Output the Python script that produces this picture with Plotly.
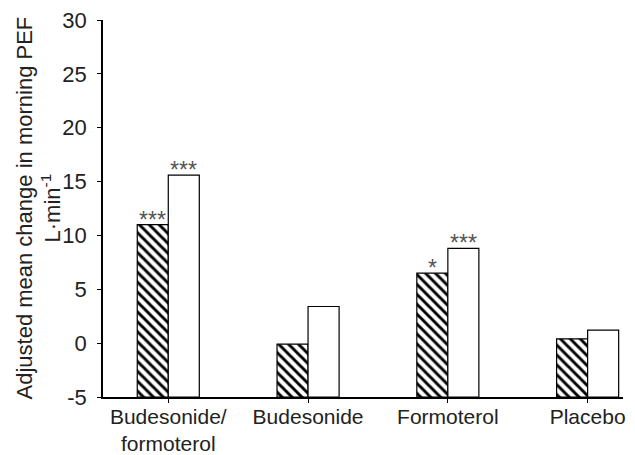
import plotly.graph_objects as go

categories = ["Budesonide/<br>formoterol", "Budesonide", "Formoterol", "Placebo"]
hatched_values = [11.0, -0.1, 6.5, 0.4]
open_values = [15.6, 3.4, 8.8, 1.2]
hatched_sig = ["***", "", "*", ""]
open_sig = ["***", "", "***", ""]
y_ticks = [-5, 0, 5, 10, 15, 20, 25, 30]
y_tick_labels = ["-5", "0", "5", "10", "15", "20", "25", "30"]
y_title_lines = ["Adjusted mean change in morning PEF", "L·min<sup>-1</sup>"]
y_min, y_max = -5, 30

FONT = "Liberation Sans, Arial, sans-serif"
TXT = "#222222"

fig = go.Figure()
fig.add_trace(go.Bar(
    x=categories, y=[v - y_min for v in hatched_values], base=y_min,
    name="Hatched", offsetgroup="a",
    marker=dict(color="white", line=dict(color="black", width=1.2),
                pattern=dict(shape="\\", fgcolor="black", bgcolor="white",
                             fgopacity=1, size=7, solidity=0.42)),
))
fig.add_trace(go.Bar(
    x=categories, y=[v - y_min for v in open_values], base=y_min,
    name="Open", offsetgroup="b",
    marker=dict(color="white", line=dict(color="black", width=1.2)),
))

# significance markers above bars
bw = 0.222
for i, cat in enumerate(categories):
    for sig, vals, off in ((hatched_sig, hatched_values, -bw / 2), (open_sig, open_values, bw / 2)):
        if sig[i]:
            fig.add_annotation(x=i + off, y=vals[i], text=sig[i], showarrow=False,
                               xref="x", yref="y", yanchor="bottom", yshift=-10,
                               font=dict(family=FONT, size=23, color="#555555"))

# y-axis title, two lines
for line, shift in zip(y_title_lines, (-79, -53)):
    fig.add_annotation(x=0, y=0.5, xref="paper", yref="paper", text=line,
                       textangle=-90, showarrow=False, xanchor="center", yanchor="middle",
                       xshift=shift, font=dict(family=FONT, size=22, color=TXT))

fig.update_layout(
    width=635, height=455,
    margin=dict(l=103, r=12, t=20, b=58, autoexpand=False),
    paper_bgcolor="white", plot_bgcolor="white",
    showlegend=False, barmode="group", bargap=0.556, bargroupgap=0,
    font=dict(family=FONT, size=21, color=TXT),
)
fig.update_xaxes(
    type="category", range=[-0.467, 3.253],
    showline=True, linecolor="black", linewidth=1.5,
    ticks="outside", ticklen=4, tickcolor="black", tickwidth=1.2,
    tickfont=dict(family=FONT, size=21, color=TXT), ticklabelstandoff=-4,
    showgrid=False, zeroline=False,
)
fig.update_yaxes(
    range=[y_min, y_max], tickvals=y_ticks, ticktext=y_tick_labels,
    showline=True, linecolor="black", linewidth=1.5,
    ticks="outside", ticklen=4, tickcolor="black", tickwidth=1.2,
    tickfont=dict(family=FONT, size=22, color=TXT), ticklabelstandoff=6,
    showgrid=False, zeroline=False,
    automargin=False,
)

fig.write_html("out.html")
